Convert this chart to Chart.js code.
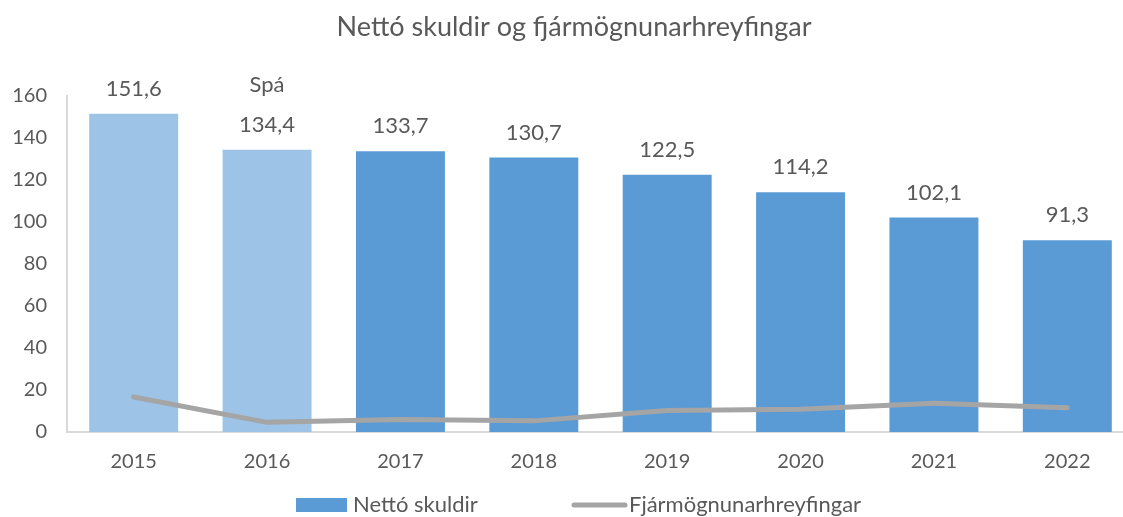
<!DOCTYPE html>
<html>
<head>
<meta charset="utf-8">
<script src="https://cdn.jsdelivr.net/npm/chart.js@4/dist/chart.umd.min.js"></script>
<style>
  html, body { margin: 0; padding: 0; background: #fff; overflow: hidden; }
  /* teiknisvæðið nær aðeins út fyrir hægri brún gluggans */
  #wrap { width: 1134px; height: 517px; }
</style>
</head>
<body>
<div id="wrap"><canvas id="chart"></canvas></div>
<script>
// ár og gildi
var years = ['2015', '2016', '2017', '2018', '2019', '2020', '2021', '2022'];
var skuldir = [151.6, 134.4, 133.7, 130.7, 122.5, 114.2, 102.1, 91.3];
var hreyfingar = [16.7, 4.6, 6.0, 5.3, 10.2, 10.8, 13.7, 11.6];
// merkingar fyrir ofan súlurnar (Spá yfir 2016)
var athugasemdir = ['', 'Spá', '', '', '', '', '', ''];
var yTicks = [0, 20, 40, 60, 80, 100, 120, 140, 160];
var titill = 'Nettó skuldir og fjármögnunarhreyfingar';

var LJOS = '#9DC3E6';
var DOKK = '#5B9BD5';
var GRAR = '#A5A5A5';
var TEXTI = '#595959';
var LETUR = 'Lato, "Open Sans", sans-serif';

Chart.defaults.font.family = LETUR;
Chart.defaults.color = TEXTI;

var litir = skuldir.map(function (v, i) { return i < 2 ? LJOS : DOKK; });

// skrifar gildin fyrir ofan súlurnar
var gildaPlugin = {
  id: 'gildi',
  afterDatasetsDraw: function (chart) {
    var ctx = chart.ctx;
    var meta = chart.getDatasetMeta(1);
    ctx.save();
    ctx.fillStyle = TEXTI;
    ctx.font = '22px ' + LETUR;
    ctx.textAlign = 'center';
    ctx.textBaseline = 'middle';
    meta.data.forEach(function (bar, i) {
      ctx.fillText(skuldir[i].toFixed(1).replace('.', ','), bar.x, bar.y - 25);
      if (athugasemdir[i]) {
        ctx.fillText(athugasemdir[i], bar.x, bar.y - 65);
      }
    });
    ctx.restore();
  }
};

// titill og skýringar, teiknað sjálf
var skyringPlugin = {
  id: 'skyring',
  afterDraw: function (chart) {
    var ctx = chart.ctx;
    ctx.save();
    ctx.textBaseline = 'middle';

    ctx.font = '27px ' + LETUR;
    ctx.textAlign = 'center';
    ctx.fillStyle = TEXTI;
    ctx.fillText(titill, chart.width / 2 + 7, 27);

    var y = chart.height - 12;
    var x = chart.width / 2 - 271;
    ctx.font = '22px ' + LETUR;
    ctx.textAlign = 'left';

    ctx.fillStyle = DOKK;
    ctx.fillRect(x, y - 7, 51, 14);
    ctx.fillStyle = TEXTI;
    ctx.fillText('Nettó skuldir', x + 57, y);

    x += 276;
    ctx.strokeStyle = GRAR;
    ctx.lineWidth = 5;
    ctx.lineCap = 'round';
    ctx.beginPath();
    ctx.moveTo(x + 2, y);
    ctx.lineTo(x + 53, y);
    ctx.stroke();
    ctx.fillText('Fjármögnunarhreyfingar', x + 57, y);
    ctx.restore();
  }
};

const CHART = document.getElementById('chart');

let chart = new Chart(CHART, {
  data: {
    labels: years,
    datasets: [
      {
        type: 'line',
        label: 'Fjármögnunarhreyfingar',
        data: hreyfingar,
        borderColor: GRAR,
        backgroundColor: GRAR,
        borderWidth: 5,
        borderCapStyle: 'round',
        borderJoinStyle: 'round',
        pointRadius: 0,
        tension: 0,
        order: 0
      },
      {
        type: 'bar',
        label: 'Nettó skuldir',
        data: skuldir,
        backgroundColor: litir,
        barPercentage: 0.667,
        categoryPercentage: 1,
        order: 1
      }
    ]
  },
  options: {
    responsive: true,
    maintainAspectRatio: false,
    animation: false,
    layout: { padding: { left: 10, right: 0, top: 96, bottom: 41 } },
    plugins: {
      title: { display: false },
      legend: { display: false },
      tooltip: { enabled: false }
    },
    scales: {
      x: {
        offset: true,
        grid: { display: false, drawTicks: false },
        border: { color: '#D9D9D9', width: 2 },
        ticks: { color: TEXTI, font: { size: 20 }, padding: 18 },
        afterFit: function (axis) { axis.height = 44; }
      },
      y: {
        min: 0,
        max: 160,
        afterBuildTicks: function (axis) {
          axis.ticks = yTicks.map(function (v) { return { value: v }; });
        },
        grid: { display: false, drawTicks: false },
        border: { color: '#D9D9D9', width: 2 },
        ticks: { color: TEXTI, font: { size: 20 }, padding: 20 },
        afterFit: function (axis) { axis.width = 57; }
      }
    }
  },
  plugins: [gildaPlugin, skyringPlugin]
});
</script>
</body>
</html>
